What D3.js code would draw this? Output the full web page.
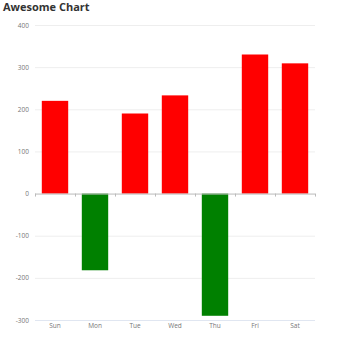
<!DOCTYPE html>
<html><head><meta charset="utf-8">
<script src="https://cdn.jsdelivr.net/npm/d3@7/dist/d3.min.js"></script>
<style>body{margin:0;background:#fff}svg{display:block}</style>
</head><body>
<script>
const categories = ["Sun","Mon","Tue","Wed","Thu","Fri","Sat"];
const values = [220,-182,190,233,-290,330,309];
const yTicks = [-300,-200,-100,0,100,200,300,400];

const W=350,H=350;
const svg=d3.select("body").append("svg").attr("width",W).attr("height",H);
const x=d3.scaleBand().domain(categories).range([35,315]).paddingInner(0.34).paddingOuter(0.17);
const y=d3.scaleLinear().domain([-300,400]).range([320,25]);

svg.append("text").attr("x",3).attr("y",11).text("Awesome Chart")
  .attr("font-family","Open Sans, sans-serif").attr("font-weight","bold").attr("font-size",11).attr("fill","#333");

// grid
svg.append("g").selectAll("line").data(yTicks.filter(d=>d!==0)).join("line")
  .attr("x1",35).attr("x2",315).attr("y1",d=>y(d)+0.5).attr("y2",d=>y(d)+0.5)
  .attr("stroke",d=>d===-300?"#e0e6f1":"#eeeeee").attr("stroke-width",1);

// y labels
svg.append("g").selectAll("text").data(yTicks).join("text")
  .attr("x",29).attr("y",d=>y(d)+2.5).attr("text-anchor","end")
  .attr("font-family","Open Sans, sans-serif").attr("font-size",6.5).attr("fill","#777").text(d=>d);

// bars
svg.append("g").selectAll("rect").data(categories).join("rect")
  .attr("x",d=>x(d)).attr("width",x.bandwidth())
  .attr("y",(d,i)=>y(Math.max(0,values[i])))
  .attr("height",(d,i)=>Math.abs(y(values[i])-y(0)))
  .attr("fill",(d,i)=>values[i]>=0?"#ff0000":"#008000");

// zero axis
const bounds=d3.range(categories.length+1).map(i=>35+i*((315-35)/categories.length));
svg.append("line").attr("x1",35).attr("x2",315).attr("y1",y(0)+0.5).attr("y2",y(0)+0.5).attr("stroke","#bbbbbb");
svg.append("g").selectAll("line").data(bounds).join("line")
  .attr("x1",d=>d+0.5).attr("x2",d=>d+0.5).attr("y1",y(0)).attr("y2",y(0)+3).attr("stroke","#bbbbbb");

// x labels
svg.append("g").selectAll("text").data(categories).join("text")
  .attr("x",d=>x(d)+x.bandwidth()/2).attr("y",328).attr("text-anchor","middle")
  .attr("font-family","Open Sans, sans-serif").attr("font-size",6.5).attr("fill","#777").text(d=>d);
</script>
</body></html>
